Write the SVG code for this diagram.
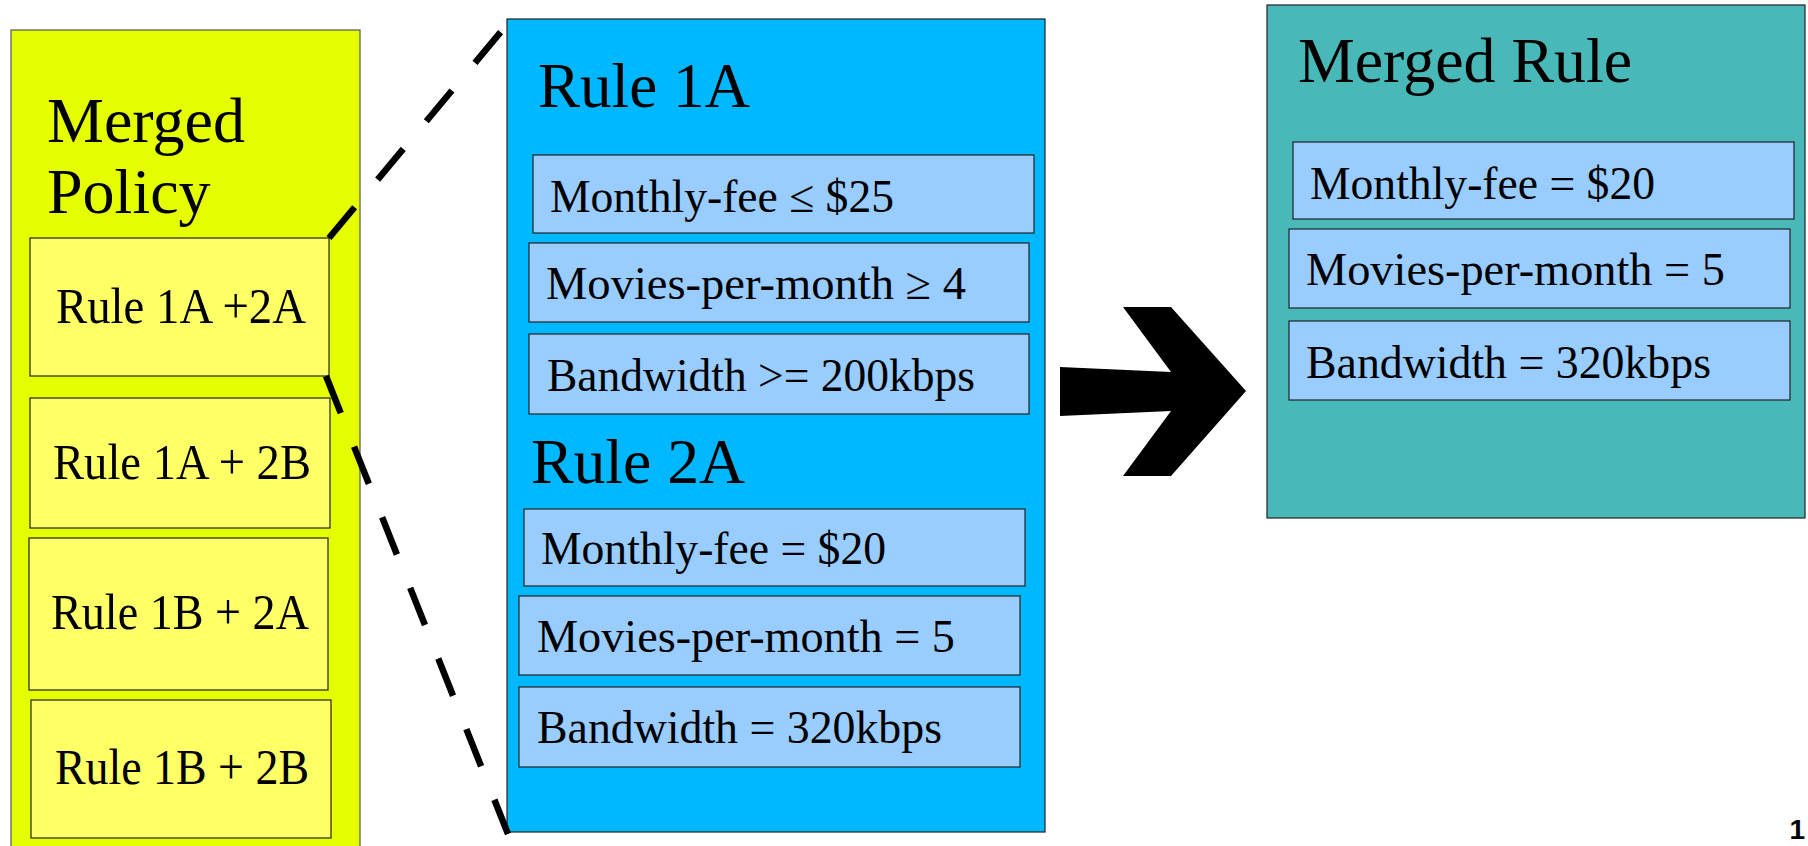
<svg xmlns="http://www.w3.org/2000/svg" width="1808" height="846" viewBox="0 0 1808 846">
<style>
text{font-family:"Liberation Serif","Times New Roman",serif;fill:#000}
.t{font-size:46px}
.h{font-size:64px}
.y{font-size:50px}
.outer{stroke:#555;stroke-width:1.2}
.box{stroke:#222;stroke-width:1.2}
.ybox{fill:#ffff66}
.lb{fill:#99ccff}
.dash{fill:none;stroke:#000;stroke-width:6.5;stroke-dasharray:40 36}
</style>
<rect width="1808" height="846" fill="#fff"/>
<g id="merged-policy">
<rect class="outer" x="11" y="30" width="349" height="830" fill="#e5ff00"/>
<text class="h" x="47" y="142">Merged</text>
<text class="h" x="47" y="213">Policy</text>
</g>
<g id="rule-1a-2a"><rect class="box ybox" x="30" y="238" width="299" height="138"/><text class="y" x="56" y="323" textLength="250" lengthAdjust="spacingAndGlyphs">Rule 1A +2A</text></g>
<g id="rule-1a-2b"><rect class="box ybox" x="30" y="398" width="300" height="130"/><text class="y" x="53" y="479" textLength="258" lengthAdjust="spacingAndGlyphs">Rule 1A + 2B</text></g>
<g id="rule-1b-2a"><rect class="box ybox" x="29" y="538" width="299" height="152"/><text class="y" x="51" y="629" textLength="258" lengthAdjust="spacingAndGlyphs">Rule 1B + 2A</text></g>
<g id="rule-1b-2b"><rect class="box ybox" x="31" y="700" width="300" height="138"/><text class="y" x="55" y="784" textLength="254" lengthAdjust="spacingAndGlyphs">Rule 1B + 2B</text></g>

<g id="rules-detail">
<rect class="box" x="507" y="19" width="538" height="813" fill="#00b8ff"/>
<text class="h" x="538" y="107" textLength="212" lengthAdjust="spacingAndGlyphs">Rule 1A</text>
<text class="h" x="531" y="483" textLength="214" lengthAdjust="spacingAndGlyphs">Rule 2A</text>
</g>
<g id="r1a-fee"><rect class="box lb" x="533" y="155" width="501" height="78"/><text class="t" x="550" y="212" textLength="344" lengthAdjust="spacingAndGlyphs">Monthly-fee ≤ $25</text></g>
<g id="r1a-movies"><rect class="box lb" x="529" y="243" width="500" height="79"/><text class="t" x="546" y="299" textLength="420" lengthAdjust="spacingAndGlyphs">Movies-per-month ≥ 4</text></g>
<g id="r1a-bw"><rect class="box lb" x="529" y="334" width="500" height="80"/><text class="t" x="547" y="391" textLength="428" lengthAdjust="spacingAndGlyphs">Bandwidth &gt;= 200kbps</text></g>
<g id="r2a-fee"><rect class="box lb" x="524" y="509" width="501" height="77"/><text class="t" x="541" y="564" textLength="345" lengthAdjust="spacingAndGlyphs">Monthly-fee = $20</text></g>
<g id="r2a-movies"><rect class="box lb" x="519" y="596" width="501" height="79"/><text class="t" x="537" y="652" textLength="418" lengthAdjust="spacingAndGlyphs">Movies-per-month = 5</text></g>
<g id="r2a-bw"><rect class="box lb" x="519" y="687" width="501" height="80"/><text class="t" x="537" y="743" textLength="405" lengthAdjust="spacingAndGlyphs">Bandwidth = 320kbps</text></g>

<g id="merged-rule">
<rect class="box" x="1267" y="5" width="538" height="513" fill="#48b8b8"/>
<text class="h" x="1298" y="82" textLength="334" lengthAdjust="spacingAndGlyphs">Merged Rule</text>
</g>
<g id="mr-fee"><rect class="box lb" x="1293" y="142" width="501" height="77"/><text class="t" x="1310" y="199" textLength="345" lengthAdjust="spacingAndGlyphs">Monthly-fee = $20</text></g>
<g id="mr-movies"><rect class="box lb" x="1289" y="229" width="501" height="79"/><text class="t" x="1306" y="285" textLength="419" lengthAdjust="spacingAndGlyphs">Movies-per-month = 5</text></g>
<g id="mr-bw"><rect class="box lb" x="1289" y="321" width="501" height="79"/><text class="t" x="1306" y="378" textLength="405" lengthAdjust="spacingAndGlyphs">Bandwidth = 320kbps</text></g>

<g id="connectors">
<line class="dash" x1="329" y1="238" x2="504" y2="28"/>
<line class="dash" x1="326" y1="376" x2="508" y2="834"/>
<polygon points="1060,367 1171,372 1123,307 1171,307 1246,391 1171,476 1123,476 1171,411 1060,416" fill="#000"/>
</g>
<text x="1805" y="839" text-anchor="end" style="font-family:'Liberation Sans',Arial,sans-serif;font-size:28px;font-weight:bold">1</text>
</svg>
